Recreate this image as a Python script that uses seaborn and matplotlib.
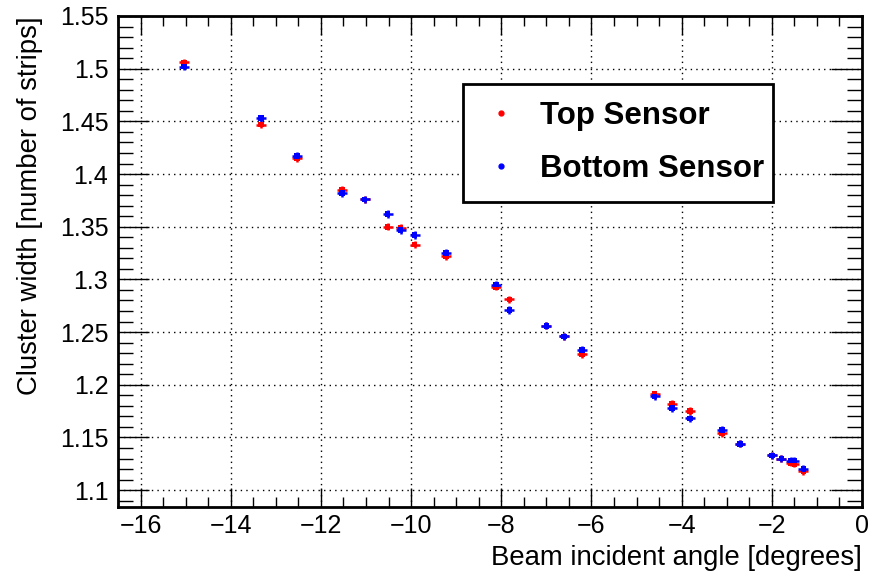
import matplotlib
matplotlib.use("Agg")
import matplotlib.pyplot as plt
from matplotlib.ticker import MultipleLocator, FuncFormatter
import numpy as np
import pandas as pd
import seaborn as sns

# Beam incident angle [deg] and mean cluster width per sensor
angle_top = [-15.04, -13.33, -12.53, -11.53, -11.03, -10.52, -10.23, -9.92, -9.23,
             -8.12, -7.82, -7.00, -6.61, -6.21, -4.60, -4.21, -3.81, -3.10, -2.70,
             -1.99, -1.79, -1.58, -1.50, -1.30]
width_top = [1.506, 1.447, 1.415, 1.385, 1.376, 1.350, 1.349, 1.333, 1.322,
             1.293, 1.281, 1.256, 1.246, 1.229, 1.191, 1.182, 1.175, 1.154, 1.144,
             1.133, 1.130, 1.126, 1.125, 1.118]

angle_bottom = [-15.04, -13.33, -12.53, -11.53, -11.03, -10.52, -10.23, -9.92, -9.23,
                -8.12, -7.82, -7.00, -6.61, -6.21, -4.60, -4.21, -3.81, -3.10, -2.70,
                -1.99, -1.79, -1.58, -1.50, -1.30]
width_bottom = [1.502, 1.453, 1.417, 1.382, 1.376, 1.362, 1.347, 1.342, 1.325,
                1.295, 1.271, 1.256, 1.246, 1.233, 1.189, 1.178, 1.168, 1.157, 1.144,
                1.133, 1.130, 1.128, 1.128, 1.120]

angle_err = 0.11
width_err = 0.0035

series_names = ["Top Sensor", "Bottom Sensor"]
series_colors = ["#ff0000", "#0000ff"]

df = pd.concat([
    pd.DataFrame({"angle": angle_top, "width": width_top, "sensor": series_names[0]}),
    pd.DataFrame({"angle": angle_bottom, "width": width_bottom, "sensor": series_names[1]}),
])

sns.set_style("white")
plt.rcParams["font.family"] = ["Liberation Sans", "DejaVu Sans"]
plt.rcParams["text.color"] = "black"
plt.rcParams["axes.labelcolor"] = "black"

fig = plt.figure(figsize=(8.72, 5.79), dpi=100)
ax = fig.add_axes([118 / 872, 1 - 507 / 579, 744 / 872, 491 / 579])

palette = dict(zip(series_names, series_colors))
for name in series_names:
    sub = df[df["sensor"] == name]
    ax.errorbar(sub["angle"], sub["width"], xerr=angle_err, yerr=width_err,
                fmt="none", ecolor=palette[name], elinewidth=1.8, capsize=0, zorder=3)
sns.scatterplot(data=df, x="angle", y="width", hue="sensor", palette=palette,
                s=16, marker="s", edgecolor="none", ax=ax, zorder=4, legend=False)

ax.set_xlim(-16.5, 0)
ax.set_ylim(1.084, 1.55)

ax.xaxis.set_major_locator(MultipleLocator(2))
ax.xaxis.set_minor_locator(MultipleLocator(0.5))
ax.yaxis.set_major_locator(MultipleLocator(0.05))
ax.yaxis.set_minor_locator(MultipleLocator(0.01))

fmt = FuncFormatter(lambda v, p: f"{v:.10g}".replace("-", "\u2212"))
ax.xaxis.set_major_formatter(fmt)
ax.yaxis.set_major_formatter(fmt)

ax.tick_params(which="both", direction="in", top=True, right=True,
               bottom=True, left=True, colors="black", labelsize=18, width=1)
ax.tick_params(axis="y", which="major", length=22, pad=7)
ax.tick_params(axis="y", which="minor", length=11)
ax.tick_params(axis="x", which="major", length=14, pad=5)
ax.tick_params(axis="x", which="minor", length=7)

ax.grid(True, which="major", color="black", linestyle=(0, (1, 3)), linewidth=1)
ax.set_axisbelow(True)
for sp in ax.spines.values():
    sp.set_visible(True)
    sp.set_color("black")
    sp.set_linewidth(2)

ax.set_xlabel("Beam incident angle [degrees]", fontsize=19.8, ha="right", x=1.0,
              labelpad=5, color="black")
ax.set_ylabel("Cluster width [number of strips]", fontsize=19.8, ha="right", y=1.0,
              labelpad=12, color="black")

handles = [plt.Line2D([], [], linestyle="none", marker="o", markersize=3.5,
                      markerfacecolor=c, markeredgecolor=c) for c in series_colors]
leg = ax.legend(handles, series_names, loc="upper left",
                bbox_to_anchor=(0.464, 0.862, 0.416, 0.0), mode="expand",
                prop={"weight": "bold", "size": 22.5}, frameon=True, fancybox=False,
                borderpad=0.55, labelspacing=0.75, handlelength=1.3,
                handletextpad=0.6, borderaxespad=0, labelcolor="black")
leg.get_frame().set_edgecolor("black")
leg.get_frame().set_linewidth(2)
leg.get_frame().set_alpha(1)

fig.savefig("out.png", dpi=100)
